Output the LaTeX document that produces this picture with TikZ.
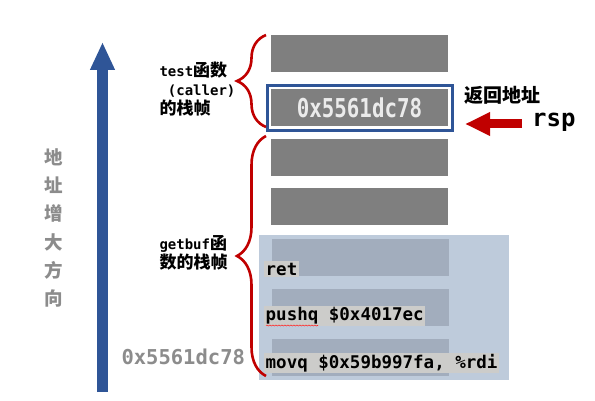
\documentclass[tikz,border=0pt]{standalone}
\usepackage{fontspec}
\setmonofont{DejaVu Sans Mono}
\newfontfamily\cjk{Noto Sans CJK SC}
\newfontfamily\narrowmono[FakeStretch=0.8]{DejaVu Sans Mono}
\usetikzlibrary{arrows.meta,decorations.pathreplacing,decorations.pathmorphing}
\definecolor{blockgray}{RGB}{127,127,127}
\definecolor{frameblue}{RGB}{47,85,151}
\definecolor{bufblue}{RGB}{190,203,219}
\definecolor{bufcell}{RGB}{162,173,189}
\definecolor{hlgray}{RGB}{204,204,202}
\definecolor{bracered}{RGB}{192,0,0}
\definecolor{labelgray}{RGB}{140,140,140}
\begin{document}
\begin{tikzpicture}[
x=1pt,y=-1pt,
cell/.style={fill=blockgray,minimum width=177pt,minimum height=37pt,inner sep=0pt},
bufcellbox/.style={fill=bufcell,minimum width=177pt,minimum height=37pt,inner sep=0pt},
codeline/.style={anchor=west,fill=hlgray,inner sep=1.5pt,font=\ttfamily\bfseries\fontsize{17.5}{20}\selectfont},
framebrace/.style={draw=bracered,line width=2.6pt,decorate,decoration={brace,amplitude=29pt}},
framelabel/.style={anchor=west,align=left,font=\fontsize{17}{19}\selectfont}
]
\useasboundingbox (0,0) rectangle (595,401);

% address direction
\coordinate (abot) at (102.5,392);
\coordinate (atop) at (102.5,42);
\draw[frameblue,line width=11pt,-{Triangle[width=23pt,length=28pt]}] (abot) -- (atop);
\node[text=labelgray,align=center,font=\cjk\bfseries\fontsize{18.5}{28.3}\selectfont] (dir) at (54,228) {地\\址\\增\\大\\方\\向};

% stack cells
\node[cell] (c1) at (359.5,53.5) {};
\node[cell] (c2) at (359.5,107.5) {};
\node[text=white!92!black,font=\narrowmono\bfseries\fontsize{26}{28}\selectfont] (ra) at (c2) {0x5561dc78};
\node[draw=frameblue,line width=3pt,minimum width=185pt,minimum height=45pt,inner sep=0pt] (frame) at (360,108) {};
\node[cell] (c3) at (359.5,157.5) {};
\node[cell] (c4) at (359.5,207) {};

% buffer area
\node[fill=bufblue,minimum width=250pt,minimum height=145pt,inner sep=0pt] (buf) at (384,307.5) {};
\node[bufcellbox] (b1) at (360,257.5) {};
\node[bufcellbox] (b2) at (360,307.5) {};
\node[bufcellbox] (b3) at (360,357.5) {};
\node[codeline] (ret) at (264,269) {ret};
\node[codeline] (push) at (264,316) {pushq \$0x4017ec};
\node[codeline] (mov) at (264,363) {movq \$0x59b997fa, \%rdi};
\draw[red!85,line width=0.6pt,decorate,decoration={snake,amplitude=0.5pt,segment length=3pt}] (266,325.5) -- (318,325.5);

% frames
\draw[framebrace] (266,127) -- (266,35);
\draw[framebrace] (266,376) -- (266,136);
\node[framelabel] (callerlbl) at (156,89) {{\ttfamily\bfseries\fontsize{14}{19}\selectfont test}{\cjk\bfseries 函数}\\{\ttfamily\bfseries\fontsize{14}{19}\selectfont \ (caller)}\\{\cjk\bfseries 的栈帧}};
\node[framelabel] (getbuflbl) at (156,253) {{\ttfamily\bfseries\fontsize{14}{19}\selectfont getbuf}{\cjk\bfseries 函}\\{\cjk\bfseries 数的栈帧}};
\node[anchor=west,text=labelgray,font=\ttfamily\bfseries\fontsize{20.5}{24}\selectfont] (bufaddr) at (118,357) {0x5561dc78};

% return address and rsp
\node[anchor=west,font=\cjk\bfseries\fontsize{19}{22}\selectfont] (ralbl) at (461,95) {返回地址};
\node[anchor=base west,inner sep=0pt,font=\ttfamily\bfseries\fontsize{24}{28}\selectfont] (rsp) at (532,127) {rsp};
\coordinate (rsptail) at (522,124);
\coordinate (rsptip) at (465,124);
\draw[bracered,line width=9pt,-{Triangle[width=22pt,length=25pt]}] (rsptail) -- (rsptip);
\end{tikzpicture}
\end{document}
